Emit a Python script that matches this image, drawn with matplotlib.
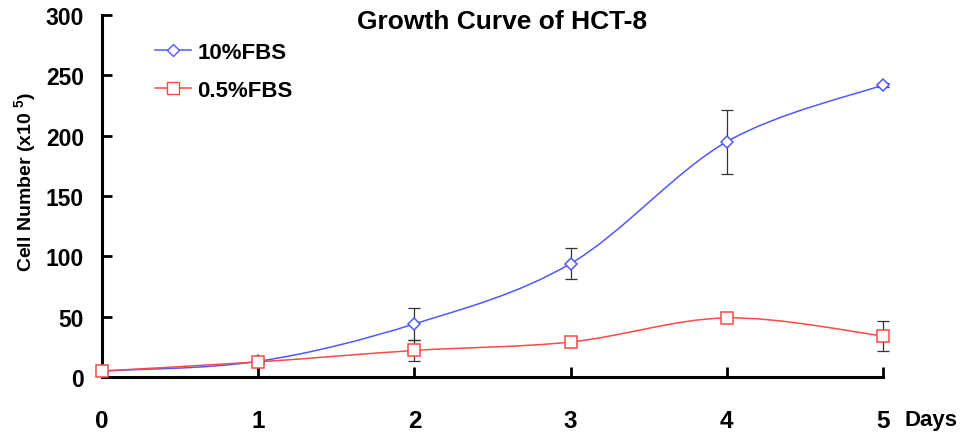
import matplotlib
matplotlib.use("Agg")
import matplotlib.pyplot as plt
from matplotlib.path import Path
from matplotlib.patches import PathPatch
from matplotlib.lines import Line2D

plt.rcParams['font.family'] = ['Liberation Sans', 'DejaVu Sans']
plt.rcParams['font.weight'] = 'bold'
plt.rcParams['mathtext.fontset'] = 'custom'
plt.rcParams['mathtext.rm'] = 'Liberation Sans:bold'
plt.rcParams['mathtext.it'] = 'Liberation Sans:bold'
plt.rcParams['mathtext.bf'] = 'Liberation Sans:bold'

days = [0, 1, 2, 3, 4, 5]
fbs10 = [5, 13, 44, 94, 195, 242]
fbs10_err = [0.5, 1, 13.5, 12.7, 26.6, 2]
fbs05 = [5, 12.5, 22, 29, 49, 34]
fbs05_err = [0.5, 1, 8.5, 1, 2, 12.8]
labels = ['10%FBS', '0.5%FBS']

blue = '#5058ff'
red = '#ff4848'


def smooth_path(x, y):
    # excel-style smoothed line: cubic bezier through every point
    n = len(x)
    verts = [(x[0], y[0])]
    codes = [Path.MOVETO]
    for i in range(n - 1):
        x0, y0 = (x[i - 1], y[i - 1]) if i > 0 else (x[i], y[i])
        x3, y3 = (x[i + 2], y[i + 2]) if i + 2 < n else (x[i + 1], y[i + 1])
        c1 = (x[i] + (x[i + 1] - x0) / 6, y[i] + (y[i + 1] - y0) / 6)
        c2 = (x[i + 1] - (x3 - x[i]) / 6, y[i + 1] - (y3 - y[i]) / 6)
        verts += [c1, c2, (x[i + 1], y[i + 1])]
        codes += [Path.CURVE4] * 3
    return Path(verts, codes)


fig = plt.figure(figsize=(9.61, 4.39), dpi=100)
ax = fig.add_axes([102 / 961, 61 / 439, 781 / 961, 362 / 439])

for vals, errs, col, mk, ms in [(fbs10, fbs10_err, blue, 'D', 6.5), (fbs05, fbs05_err, red, 's', 8.5)]:
    ax.add_patch(PathPatch(smooth_path(days, vals), facecolor='none', edgecolor=col, lw=1.1, zorder=2))
    eb = ax.errorbar(days, vals, yerr=errs, fmt='none', ecolor='#333333', elinewidth=0.9, capsize=4, capthick=0.9, zorder=3)
    for art in eb.get_children():
        art.set_clip_on(False)
    ax.plot(days, vals, linestyle='none', marker=mk, ms=ms, mfc='white', mec=col, mew=1.1, zorder=4, clip_on=False)

ax.set_xlim(0, 5)
ax.set_ylim(0, 300)
ax.set_xticks(days)
ax.set_yticks(range(0, 301, 50))
ax.spines['top'].set_visible(False)
ax.spines['right'].set_visible(False)
ax.spines['left'].set_linewidth(2.2)
ax.spines['bottom'].set_linewidth(2.2)
ax.tick_params(axis='both', direction='in', length=7, width=2)
ax.tick_params(axis='y', pad=13, labelsize=16.5)
ax.tick_params(axis='x', pad=23, labelsize=17.5)
for lab in ax.get_xticklabels() + ax.get_yticklabels():
    lab.set_fontweight('bold')

fig.text(502 / 961, 1 - 22 / 439, 'Growth Curve of HCT-8', ha='center', va='center', fontsize=19, fontweight='bold')
fig.text(905 / 961, 1 - 421 / 439, 'Days', ha='left', va='center', fontsize=16, fontweight='bold')
fig.text(25 / 961, 1 - 182 / 439, 'Cell Number (x10 $^{5}$)', rotation=90, ha='center', va='center', fontsize=14, fontweight='bold')

handles = [Line2D([], [], color=blue, lw=1.1, marker='D', ms=6.5, mfc='white', mec=blue),
           Line2D([], [], color=red, lw=1.1, marker='s', ms=8.5, mfc='white', mec=red)]
leg = ax.legend(handles, labels, loc='upper left', bbox_to_anchor=(155 / 961, 1 - 43 / 439),
                bbox_transform=fig.transFigure, frameon=False, fontsize=16, borderpad=0, borderaxespad=0,
                handlelength=1.6, handletextpad=0.3, labelspacing=0.75)
for t in leg.get_texts():
    t.set_fontweight('bold')

fig.savefig('out.png', dpi=100)
